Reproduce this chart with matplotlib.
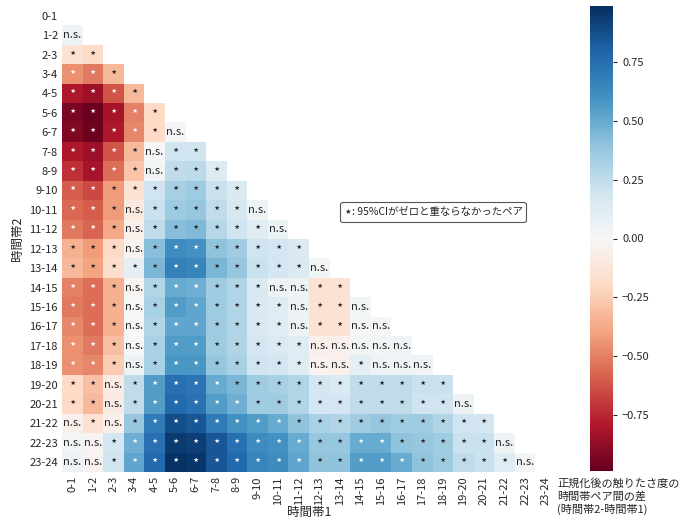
import numpy as np
import matplotlib
matplotlib.use('Agg')
import matplotlib.pyplot as plt
from matplotlib.offsetbox import TextArea, HPacker, AnchoredOffsetbox

plt.rcParams['font.family'] = ['Noto Sans CJK JP', 'DejaVu Sans']

labels = ["0-1", "1-2", "2-3", "3-4", "4-5", "5-6", "6-7", "7-8", "8-9", "9-10",
          "10-11", "11-12", "12-13", "13-14", "14-15", "15-16", "16-17", "17-18",
          "18-19", "19-20", "20-21", "21-22", "22-23", "23-24"]

r00 = []
r01 = [0.05]
r02 = [-0.15, -0.2]
r03 = [-0.45, -0.52, -0.32]
r04 = [-0.8, -0.85, -0.62, -0.32]
r05 = [-0.94, -0.98, -0.82, -0.5, -0.2]
r06 = [-0.92, -0.97, -0.8, -0.48, -0.2, 0.02]
r07 = [-0.8, -0.85, -0.62, -0.33, 0.01, 0.2, 0.2]
r08 = [-0.72, -0.82, -0.55, -0.28, 0.03, 0.25, 0.27, 0.13]
r09 = [-0.6, -0.65, -0.42, -0.15, 0.2, 0.33, 0.36, 0.22, 0.14]
r10 = [-0.57, -0.6, -0.42, -0.1, 0.22, 0.36, 0.38, 0.25, 0.17, 0.05]
r11 = [-0.52, -0.58, -0.38, -0.05, 0.25, 0.42, 0.44, 0.28, 0.2, 0.12, 0.05]
r12 = [-0.35, -0.42, -0.2, -0.03, 0.42, 0.62, 0.6, 0.4, 0.35, 0.2, 0.18, 0.15]
r13 = [-0.33, -0.4, -0.18, 0.1, 0.45, 0.68, 0.65, 0.45, 0.38, 0.22, 0.18, 0.15, 0.03]
r14 = [-0.5, -0.55, -0.35, -0.02, 0.3, 0.5, 0.48, 0.35, 0.3, 0.15, 0.05, 0.05, -0.15, -0.15]
r15 = [-0.52, -0.55, -0.35, 0.0, 0.32, 0.55, 0.52, 0.35, 0.3, 0.15, 0.12, 0.05, -0.15, -0.15, 0.03]
r16 = [-0.48, -0.55, -0.35, 0.0, 0.3, 0.52, 0.52, 0.35, 0.3, 0.15, 0.12, 0.05, -0.15, -0.15, 0.02, 0.02]
r17 = [-0.45, -0.52, -0.3, 0.0, 0.32, 0.55, 0.55, 0.35, 0.3, 0.18, 0.15, 0.12, -0.05, -0.05, 0.03, 0.03, 0.04]
r18 = [-0.45, -0.48, -0.25, 0.05, 0.32, 0.58, 0.58, 0.38, 0.32, 0.2, 0.18, 0.12, -0.03, -0.05, 0.1, 0.04, 0.04, 0.04]
r19 = [-0.2, -0.3, -0.08, 0.25, 0.55, 0.75, 0.72, 0.5, 0.45, 0.35, 0.33, 0.3, 0.18, 0.15, 0.25, 0.25, 0.25, 0.22, 0.22]
r20 = [-0.2, -0.32, -0.08, 0.25, 0.55, 0.78, 0.74, 0.55, 0.48, 0.35, 0.35, 0.3, 0.18, 0.18, 0.25, 0.25, 0.25, 0.2, 0.2, 0.05]
r21 = [-0.05, -0.15, -0.05, 0.38, 0.7, 0.88, 0.85, 0.7, 0.6, 0.55, 0.5, 0.4, 0.32, 0.3, 0.35, 0.38, 0.35, 0.35, 0.3, 0.2, 0.18]
r22 = [0.03, -0.03, 0.18, 0.48, 0.75, 0.95, 0.93, 0.85, 0.75, 0.62, 0.6, 0.5, 0.38, 0.38, 0.5, 0.5, 0.4, 0.38, 0.35, 0.22, 0.22, 0.05]
r23 = [0.05, -0.03, 0.2, 0.52, 0.78, 0.98, 0.96, 0.85, 0.78, 0.65, 0.62, 0.52, 0.4, 0.4, 0.55, 0.55, 0.5, 0.4, 0.35, 0.25, 0.22, 0.12, 0.03]

s00 = []
s01 = [0]
s02 = [1, 1]
s03 = [1, 1, 1]
s04 = [1, 1, 1, 1]
s05 = [1, 1, 1, 1, 1]
s06 = [1, 1, 1, 1, 1, 0]
s07 = [1, 1, 1, 1, 0, 1, 1]
s08 = [1, 1, 1, 1, 0, 1, 1, 1]
s09 = [1, 1, 1, 1, 1, 1, 1, 1, 1]
s10 = [1, 1, 1, 0, 1, 1, 1, 1, 1, 0]
s11 = [1, 1, 1, 0, 1, 1, 1, 1, 1, 1, 0]
s12 = [1, 1, 1, 0, 1, 1, 1, 1, 1, 1, 1, 1]
s13 = [1, 1, 1, 1, 1, 1, 1, 1, 1, 1, 1, 1, 0]
s14 = [1, 1, 1, 0, 1, 1, 1, 1, 1, 1, 0, 0, 1, 1]
s15 = [1, 1, 1, 0, 1, 1, 1, 1, 1, 1, 1, 0, 1, 1, 0]
s16 = [1, 1, 1, 0, 1, 1, 1, 1, 1, 1, 1, 0, 1, 1, 0, 0]
s17 = [1, 1, 1, 0, 1, 1, 1, 1, 1, 1, 1, 1, 0, 0, 0, 0, 0]
s18 = [1, 1, 1, 0, 1, 1, 1, 1, 1, 1, 1, 1, 0, 0, 1, 0, 0, 0]
s19 = [1, 1, 0, 1, 1, 1, 1, 1, 1, 1, 1, 1, 1, 1, 1, 1, 1, 1, 1]
s20 = [1, 1, 0, 1, 1, 1, 1, 1, 1, 1, 1, 1, 1, 1, 1, 1, 1, 1, 1, 0]
s21 = [0, 1, 0, 1, 1, 1, 1, 1, 1, 1, 1, 1, 1, 1, 1, 1, 1, 1, 1, 1, 1]
s22 = [0, 0, 1, 1, 1, 1, 1, 1, 1, 1, 1, 1, 1, 1, 1, 1, 1, 1, 1, 1, 1, 0]
s23 = [0, 0, 1, 1, 1, 1, 1, 1, 1, 1, 1, 1, 1, 1, 1, 1, 1, 1, 1, 1, 1, 1, 0]

value_rows = [r00, r01, r02, r03, r04, r05, r06, r07, r08, r09, r10, r11, r12,
              r13, r14, r15, r16, r17, r18, r19, r20, r21, r22, r23]
sig_rows = [s00, s01, s02, s03, s04, s05, s06, s07, s08, s09, s10, s11, s12,
            s13, s14, s15, s16, s17, s18, s19, s20, s21, s22, s23]

n = len(labels)
data = np.full((n, n), np.nan)
for i, row in enumerate(value_rows):
    data[i, :len(row)] = row
masked = np.ma.masked_invalid(data)

vmin, vmax = -0.99, 0.99
cmap = plt.get_cmap('RdBu')
norm = plt.Normalize(vmin, vmax)

fig = plt.figure(figsize=(6.89, 5.21), dpi=100)
ax = fig.add_axes([62 / 689, 1 - 472 / 521, 494 / 689, 466 / 521])
cax = fig.add_axes([590 / 689, 1 - 471 / 521, 23 / 689, 465 / 521])

mesh = ax.pcolormesh(np.arange(n + 1), np.arange(n + 1), masked, cmap=cmap, norm=norm)
ax.set_xlim(0, n)
ax.set_ylim(n, 0)
for sp in ax.spines.values():
    sp.set_visible(False)

def rel_lum(c):
    rgb = np.array(c[:3])
    rgb = np.where(rgb <= 0.03928, rgb / 12.92, ((rgb + 0.055) / 1.055) ** 2.4)
    return rgb.dot([0.2126, 0.7152, 0.0722])

for i, row in enumerate(sig_rows):
    for j, s in enumerate(row):
        col = cmap(norm(data[i, j]))
        tc = '.15' if rel_lum(col) > 0.408 else 'w'
        if s:
            ax.text(j + 0.5, i + 0.42, '⋆', ha='center', va='center', fontsize=9.5,
                    color=tc, family=['DejaVu Sans'])
        else:
            ax.text(j + 0.5, i + 0.5, 'n.s.', ha='center', va='center', fontsize=8,
                    color=tc)

ax.set_xticks(np.arange(n) + 0.5)
ax.set_yticks(np.arange(n) + 0.5)
ax.set_xticklabels(labels, rotation=90, fontsize=8, color='#262626')
ax.set_yticklabels(labels, rotation=0, fontsize=8, color='#262626')
ax.tick_params(length=0, pad=3)
ax.set_xlabel('時間帯1', fontsize=9, color='#262626', labelpad=1)
ax.set_ylabel('時間帯2', fontsize=9, color='#262626')

cbar = fig.colorbar(mesh, cax=cax)
cbar.outline.set_visible(False)
cbar.set_ticks([-0.75, -0.5, -0.25, 0.0, 0.25, 0.5, 0.75])
cbar.ax.tick_params(labelsize=8, length=3, width=0.8, colors='#262626')

fig.text(557 / 689, 1 - 478 / 521, '正規化後の触りたさ度の\n時間帯ペア間の差\n(時間帯2-時間帯1)',
         ha='left', va='top', fontsize=8, color='#262626', linespacing=1.25)

star_area = TextArea('⋆', textprops=dict(fontsize=10, color='#262626', family=['DejaVu Sans']))
txt_area = TextArea(': 95%CIがゼロと重ならなかったペア',
                    textprops=dict(fontsize=7.5, color='#262626'))
packer = HPacker(children=[star_area, txt_area], align='center', pad=0, sep=0)
abox = AnchoredOffsetbox(loc='center', child=packer, pad=0.05, borderpad=0,
                         frameon=True, bbox_to_anchor=(433 / 689, 1 - 212 / 521),
                         bbox_transform=fig.transFigure)
abox.patch.set_boxstyle('round,pad=0.15')
abox.patch.set_facecolor('white')
abox.patch.set_edgecolor('#555555')
abox.patch.set_linewidth(0.8)
fig.add_artist(abox)

fig.savefig('out.png', dpi=100)
